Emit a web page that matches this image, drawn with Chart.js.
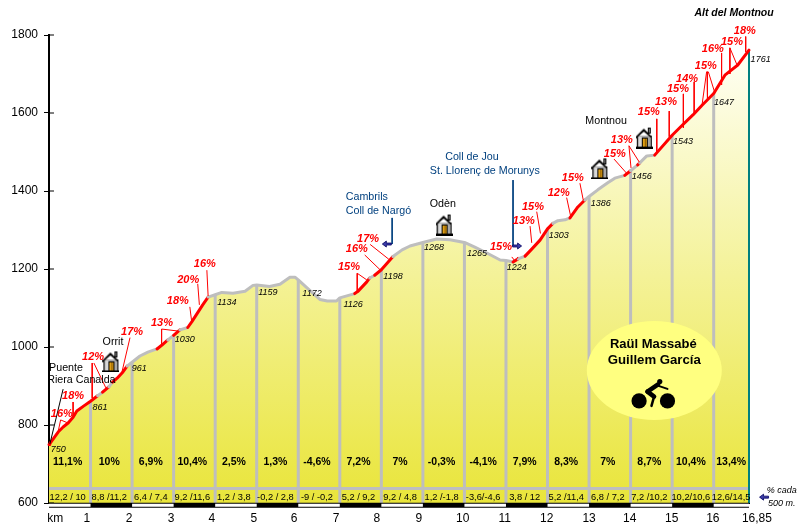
<!DOCTYPE html>
<html><head><meta charset="utf-8">
<style>html,body{margin:0;padding:0;background:#fff}canvas{display:block}</style>
<script src="https://cdn.jsdelivr.net/npm/chart.js@4/dist/chart.umd.min.js"></script>
</head><body><canvas id="c" width="800" height="530"></canvas>
<script>
const FONT='"Liberation Sans",Arial,sans-serif';
// Profile
const profileKm=[0,.02,.12,.22,.34,.46,.58,.67,.84,1,1.17,1.29,1.44,1.53,1.64,1.78,1.88,2,2.19,2.38,2.6,2.72,2.86,3,3.15,3.34,3.44,3.56,3.7,3.83,4,4.16,4.43,4.72,4.91,5,5.31,5.56,5.8,5.92,6,6.27,6.52,6.7,6.92,7,7.36,7.43,7.65,7.72,7.84,8,8.28,8.5,8.69,9,9.33,9.65,10,10.25,10.54,10.86,11,11.17,11.29,11.46,11.62,11.82,12,12.13,12.25,12.42,12.54,12.73,12.9,13,13.21,13.45,13.62,13.86,14,14.17,14.22,14.39,14.58,15,15.2,15.5,15.72,16,16.27,16.58,16.85];
const profileElev=[750,752,767,782,795,805,820,836,849,861,875,884,898,910,920,936,951,961,977,987,995,1005,1018,1030,1044,1050,1065,1085,1108,1128,1134,1140,1138,1143,1158,1159,1155,1161,1179,1179,1172,1146,1122,1118,1118,1126,1137,1142,1167,1177,1184,1198,1232,1249,1259,1268,1277,1275,1268,1256,1241,1223,1222,1218,1226,1233,1251,1274,1303,1317,1324,1326,1331,1359,1377,1386,1403,1421,1433,1440,1452,1467,1472,1490,1492,1543,1564,1595,1620,1650,1697,1723,1761];
const steepStart=[0,1.29,1.53,2.6,3,3.34,7.36,7.84,11.17,11.46,12.54,13.86,14.17,14.58];
const steepEnd=[1.17,1.44,1.88,2.86,3.15,3.83,7.72,8.28,11.29,12.13,12.9,14,14.22,16.85];
// Km posts
const postKm=[1,2,3,4,5,6,7,8,9,10,11,12,13,14,15,16];
const postElev=[861,961,1030,1134,1159,1172,1126,1198,1268,1268,1222,1303,1386,1452,1543,1650];
const finishKm=16.85, finishElev=1761, baseElev=600, bandLineElev=637;
const postLabelKm=[.22,1.23,2.17,3.27,4.28,5.27,6.33,7.32,8.28,9.27,10.3,11.26,12.27,13.28,14.27,15.26,16.25,17.13];
const postLabelElev=[738,846,944,1018,1113,1141,1136,1110,1182,1254,1241,1203,1285,1369,1436,1526,1628,1738];
const postLabels=['750','861','961','1030','1134','1159','1172','1126','1198','1268','1265','1224','1303','1386','1456','1543','1647','1761'];
// Per-km figures
const kmGrades=['11,1%','10%','6,9%','10,4%','2,5%','1,3%','-4,6%','7,2%','7%','-0,3%','-4,1%','7,9%','8,3%','7%','8,7%','10,4%','13,4%'];
const halfGrades=['12,2 / 10','8,8 /11,2','6,4 / 7,4','9,2 /11,6','1,2 / 3,8','-0,2 / 2,8','-9 / -0,2','5,2 / 9,2','9,2 / 4,8','1,2 /-1,8','-3,6/-4,6','3,8 / 12','5,2 /11,4','6,8 / 7,2','7,2 /10,2','10,2/10,6','12,6/14,5'];
const bandCentreKm=[.45,1.45,2.45,3.45,4.45,5.45,6.45,7.45,8.45,9.45,10.45,11.45,12.45,13.45,14.45,15.45,16.42];
const gradeRowElev=705, halfRowElev=615;
// Steep pitch callouts
const pitchLabels=['16%','18%','12%','17%','13%','18%','20%','16%','15%','16%','17%','15%','13%','15%','12%','15%','15%','13%','15%','13%','15%','14%','15%','16%','15%','18%'];
const pitchKm=[.31,.58,1.06,2,2.72,3.1,3.35,3.75,7.22,7.41,7.68,10.88,11.43,11.65,12.27,12.61,13.62,13.79,14.44,14.85,15.14,15.36,15.81,15.98,16.44,16.75];
const pitchElev=[828,874,974,1038,1062,1118,1172,1213,1205,1251,1277,1256,1323,1359,1395,1433,1495,1531,1603,1628,1662,1687,1720,1764,1782,1810];
const leaderKm=[[.28,.22],[.28,.46],[.58,.58],[1.04,1.04],[1.08,1.37],[1.95,1.75],[2.71,2.71],[2.71,3.1],[3.39,3.43],[3.58,3.62],[3.8,3.83],[7.42,7.42],[7.42,7.65],[7.6,7.98],[7.73,8.18],[11.14,11.22],[11.22,11.29],[11.58,11.62],[11.74,11.83],[12.46,12.56],[12.78,12.86],[13.6,13.9],[13.96,14.01],[13.96,14.21],[14.63,14.63],[14.93,14.93],[15.27,15.27],[15.53,15.53],[15.83,15.72],[15.84,15.85],[15.87,16.03],[16.19,16.19],[16.39,16.39],[16.39,16.57],[16.77,16.77]];
const leaderElev=[[813,783],[813,805],[859,821],[959,869],[959,895],[1024,933],[1046,1005],[1046,1041],[1103,1069],[1162,1108],[1197,1131],[1189,1142],[1189,1172],[1236,1197],[1263,1225],[1231,1220],[1220,1231],[1310,1267],[1347,1291],[1383,1334],[1420,1377],[1482,1446],[1516,1459],[1516,1474],[1585,1497],[1605,1539],[1649,1562],[1680,1600],[1706,1621],[1706,1633],[1706,1651],[1754,1672],[1767,1700],[1767,1721],[1796,1757]];
// Places
const placeNames=['Puente','Riera Canalda','Orrit','Odèn','Montnou'];
const placeKm=[.41,.78,1.54,9.48,13.41];
const placeElev=[946,915,1013,1367,1579];
const routeNames=['Cambrils','Coll de Nargó','Coll de Jou','St. Llorenç de Morunys'];
const routeKm=[7.65,7.93,10.18,10.49];
const routeElev=[1385,1349,1487,1451];
const routeLineKm=[[8.26,8.26],[11.17,11.17]];
const routeLineElev=[[1331,1264],[1428,1259]];
const houseKm=[1.49,9.51,13.26,14.33];
const houseElev=[963,1314,1458,1537];
const puenteLineKm=[.34,.02], puenteLineElev=[892,751];
// Axes
const elevTicks=[600,800,1000,1200,1400,1600,1800];
const axisLabels=['km','1','2','3','4','5','6','7','8','9','10','11','12','13','14','15','16','16,85'];
const axisLabelKm=[.15,.91,1.93,2.94,3.92,4.93,5.9,6.91,7.89,8.9,9.96,10.97,11.98,13,13.98,14.99,15.98,17.04];
const stripStart=[0,2,4,6,8,10,12,14,16];
const stripEnd=[1,3,5,7,9,11,13,15,16.85];
const stripElev=594;

const zip=(a,b)=>a.map((x,i)=>({x,y:b[i]}));
const pairs=(a,b)=>a.flatMap((p,i)=>[{x:p[0],y:b[i][0]},{x:p[1],y:b[i][1]},{x:p[1],y:null}]);
const inSteep=(a,b)=>steepStart.some((s,i)=>a>=s&&b<=steepEnd[i]);

// House icon
function houseIcon(){
  const k=document.createElement('canvas');k.width=17;k.height=22;const g=k.getContext('2d');
  g.fillStyle='#000';g.fillRect(12,1,3,6);g.fillStyle='#888';g.fillRect(13,2,1,4);
  g.fillStyle='#a8a8a8';g.fillRect(2,9,13,12);
  g.fillStyle='#d8d8d8';g.fillRect(3,10,3,10);
  g.fillStyle='#000';g.fillRect(1,9,1,12);g.fillRect(15,9,1,12);g.fillRect(0,20,17,2);
  g.beginPath();g.moveTo(8,2);g.lineTo(0,10);g.lineTo(0,12);g.lineTo(8,5);g.lineTo(16,12);g.lineTo(16,10);g.closePath();g.fill();
  g.fillStyle='#000';g.fillRect(6,11,6,10);g.fillStyle='#e0a015';g.fillRect(7,12,4,8);g.fillStyle='#8a5a00';g.fillRect(9,12,1,8);
  return k;
}
const gray='#bebebe',red='#ff0000',navy='#00407f';
const base={type:'line',pointRadius:0,pointHoverRadius:0,fill:false,borderJoinStyle:'round',tension:0,clip:false};
const datasets=[
 {...base,label:'Puente',data:zip(puenteLineKm,puenteLineElev),borderColor:'#000',borderWidth:1,order:1},
 {...base,label:'Leaders',data:pairs(leaderKm,leaderElev),borderColor:red,borderWidth:1,order:2},
 {...base,label:'Route',data:pairs(routeLineKm,routeLineElev),borderColor:navy,borderWidth:1,order:2},
 {...base,label:'Houses',data:zip(houseKm,houseElev),showLine:false,pointStyle:houseIcon(),pointRadius:10,order:0},
 {...base,label:'Profile',data:zip(profileKm,profileElev),borderColor:gray,borderWidth:3,borderCapStyle:'round',order:3,
   segment:{borderColor:c=>inSteep(c.p0.parsed.x,c.p1.parsed.x)?red:undefined}},
 {...base,label:'Posts',data:postKm.flatMap((k,i)=>[{x:k,y:baseElev},{x:k,y:postElev[i]},{x:k,y:null}]),borderColor:gray,borderWidth:3,order:4},
 {...base,label:'Finish',data:[{x:finishKm,y:baseElev},{x:finishKm,y:finishElev}],borderColor:'#008080',borderWidth:2,order:4},
 {...base,label:'Band',data:[{x:0,y:bandLineElev},{x:finishKm,y:bandLineElev}],borderColor:gray,borderWidth:3,order:4},
 {...base,label:'Fill',data:zip(profileKm,profileElev),borderWidth:0,borderColor:'transparent',clip:true,fill:'start',order:6,
   backgroundColor(c){const a=c.chart.chartArea;if(!a)return '#eee';const g=c.chart.ctx.createLinearGradient(0,a.bottom,0,50);g.addColorStop(0,'#e9e53a');g.addColorStop(1,'#fffff5');return g;}},
 {...base,label:'StripWhite',data:stripStart.flatMap((s,i)=>[{x:s,y:stripElev},{x:stripEnd[i],y:stripElev},{x:stripEnd[i],y:null}]),borderColor:'#fff',borderWidth:3,order:0},
 {...base,label:'StripBlack',data:[{x:0,y:stripElev},{x:finishKm,y:stripElev}],borderColor:'#000',borderWidth:5,order:1},
 {...base,label:'YTicks',data:elevTicks.flatMap(v=>[{x:0,y:v},{x:.12,y:v},{x:.12,y:null}]),borderColor:'#000',borderWidth:1,order:0}
];

function text(ctx,s,x,y,font,color,align){ctx.font=font;ctx.fillStyle=color;ctx.textAlign=align||'center';ctx.textBaseline='middle';ctx.fillText(s,x,y);}
function arrow(ctx,x,y,dir){
  ctx.save();ctx.translate(x,y);ctx.scale(dir,1);
  ctx.beginPath();ctx.moveTo(4,0);ctx.lineTo(0,-3);ctx.lineTo(0,-1);ctx.lineTo(-5,-1);ctx.lineTo(-5,1);ctx.lineTo(0,1);ctx.lineTo(0,3);ctx.closePath();
  ctx.fillStyle='#3c3ca8';ctx.fill();ctx.lineWidth=.8;ctx.strokeStyle='#000060';ctx.stroke();ctx.restore();
}
const overlay={id:'overlay',afterDatasetsDraw(ch){
  const ctx=ch.ctx,X=v=>ch.scales.x.getPixelForValue(v),Y=v=>ch.scales.y.getPixelForValue(v);
  ctx.save();
  const R='"Liberation Sans",Arial,sans-serif';
  pitchLabels.forEach((s,i)=>text(ctx,s,X(pitchKm[i]),Y(pitchElev[i]),'italic bold 11px '+R,red));
  postLabels.forEach((s,i)=>text(ctx,s,X(postLabelKm[i]),Y(postLabelElev[i]),'italic 9px '+R,'#000'));
  kmGrades.forEach((s,i)=>text(ctx,s,X(bandCentreKm[i]),Y(gradeRowElev),'bold 10.5px '+R,'#000'));
  halfGrades.forEach((s,i)=>text(ctx,s,X(bandCentreKm[i]),Y(halfRowElev),'9.3px '+R,'#000'));
  placeNames.forEach((s,i)=>text(ctx,s,X(placeKm[i]),Y(placeElev[i]),'10.7px '+R,'#000'));
  routeNames.forEach((s,i)=>text(ctx,s,X(routeKm[i]),Y(routeElev[i]),'10.7px '+R,navy));
  text(ctx,'Alt del Montnou',X(16.49),Y(1856),'italic bold 10.5px '+R,'#000');
  text(ctx,'% cada',X(17.64),Y(633),'italic 9px '+R,'#000');
  text(ctx,'500 m.',X(17.64),Y(600),'italic 9px '+R,'#000');
  arrow(ctx,X(8.12),Y(1264),-1);arrow(ctx,X(11.28),Y(1259),1);arrow(ctx,X(17.2),Y(615),-1);
  // Riders' badge
  const cx=X(14.57),cy=Y(940);
  ctx.beginPath();ctx.ellipse(cx,cy,67.5,49.5,0,0,Math.PI*2);ctx.fillStyle='#ffff80';ctx.fill();
  text(ctx,'Raül Massabé',cx-1,cy-26,'bold 13px '+R,'#000');
  text(ctx,'Guillem García',cx,cy-10,'bold 13.2px '+R,'#000');
  ctx.fillStyle='#000';ctx.strokeStyle='#000';ctx.lineCap='round';
  [[-15.2,30.5,7.6],[13.2,30.5,7.6],[5.5,11.2,2.6]].forEach(c=>{ctx.beginPath();ctx.arc(cx+c[0],cy+c[1],c[2],0,Math.PI*2);ctx.fill();});
  [[[3.8,14],[-6.8,21.2],4.5],[[3.5,15.2],[13.2,18.5],2],[[-6.8,21.2],[-.2,26.2],4.5],[[-.2,26.2],[-2.8,35.5],2.5]].forEach(l=>{ctx.lineWidth=l[2];ctx.beginPath();ctx.moveTo(cx+l[0][0],cy+l[0][1]);ctx.lineTo(cx+l[1][0],cy+l[1][1]);ctx.stroke();});
  ctx.restore();
}};

new Chart(document.getElementById('c'),{type:'line',data:{datasets},plugins:[overlay],options:{
  responsive:false,animation:false,events:[],
  layout:{padding:{top:35,right:51,left:0,bottom:0}},
  plugins:{legend:{display:false},tooltip:{enabled:false},title:{display:false}},
  scales:{
    x:{type:'linear',min:0,max:finishKm,offset:false,
       grid:{display:false,drawTicks:false},border:{display:true,color:'#000',width:2},
       afterBuildTicks:s=>{s.ticks=axisLabelKm.map(v=>({value:v}));},
       afterFit:s=>{s.height=27;},
       ticks:{autoSkip:false,maxRotation:0,padding:8,color:'#000',font:{family:FONT,size:12},callback:(v,i)=>axisLabels[i]}},
    y:{type:'linear',min:600,max:1800,
       grid:{drawOnChartArea:false,color:'#000',tickLength:5,tickColor:'#000'},border:{display:true,color:'#000',width:2},
       afterBuildTicks:s=>{s.ticks=elevTicks.map(v=>({value:v}));},
       afterFit:s=>{s.width=49;},
       ticks:{autoSkip:false,padding:6,color:'#000',font:{family:FONT,size:12},callback:v=>String(v)}}
  }
}});
</script></body></html>
